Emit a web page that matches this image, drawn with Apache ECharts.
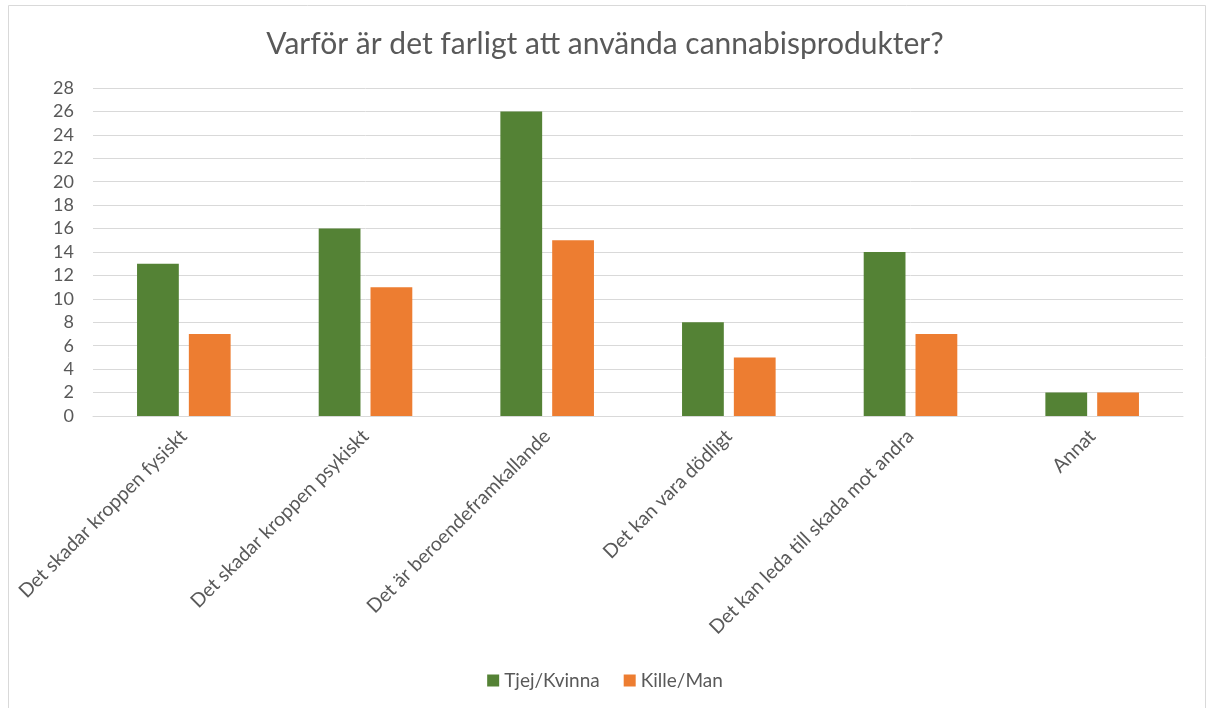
<!DOCTYPE html>
<html>
<head>
<meta charset="utf-8">
<script src="https://cdn.jsdelivr.net/npm/echarts@6/dist/echarts.min.js"></script>
<style>
  html, body { margin: 0; padding: 0; background: #fff; }
  #graph { width: 1210px; height: 708px; }
</style>
</head>
<body>
<div id="graph"></div>
<script>
const categories = [
  "Det skadar kroppen fysiskt",
  "Det skadar kroppen psykiskt",
  "Det är beroendeframkallande",
  "Det kan vara dödligt",
  "Det kan leda till skada mot andra",
  "Annat"
];
const tjejValues = [13, 16, 26, 8, 14, 2];
const killeValues = [7, 11, 15, 5, 7, 2];
const yTicks = { min: 0, max: 28, interval: 2 };

const textColor = "#595959";
const fontName = "Lato, 'Open Sans', sans-serif";

function createOptions() {
  return {
    animation: false,
    graphic: [{
      type: "rect",
      shape: { x: 8.5, y: 5.5, width: 1197, height: 710 },
      style: { fill: "none", stroke: "#d9d9d9", lineWidth: 1 }
    }],
    title: {
      left: "center",
      top: 24,
      text: "Varför är det farligt att använda cannabisprodukter?",
      textStyle: { color: textColor, fontSize: 30, fontWeight: "normal", fontFamily: fontName }
    },
    legend: {
      top: 666,
      left: "center",
      itemWidth: 12,
      itemHeight: 12,
      itemGap: 24,
      icon: "rect",
      textStyle: { color: textColor, fontSize: 19, fontFamily: fontName },
      data: ["Tjej/Kvinna", "Kille/Man"]
    },
    grid: { left: 93, right: 27, top: 88, bottom: 292 },
    xAxis: {
      type: "category",
      data: categories,
      axisLine: { lineStyle: { color: "#d9d9d9" } },
      axisTick: { show: false },
      axisLabel: {
        rotate: 45,
        interval: 0,
        margin: 17,
        color: textColor,
        fontSize: 19.5,
        fontFamily: fontName
      }
    },
    yAxis: {
      type: "value",
      min: yTicks.min,
      max: yTicks.max,
      interval: yTicks.interval,
      axisLine: { show: false },
      axisTick: { show: false },
      splitLine: { lineStyle: { color: "#d9d9d9" } },
      axisLabel: { color: textColor, fontSize: 18, fontFamily: fontName, margin: 19 }
    },
    series: [
      {
        name: "Tjej/Kvinna",
        type: "bar",
        data: tjejValues,
        barWidth: "23%",
        barGap: "24%",
        itemStyle: { color: "#548235" }
      },
      {
        name: "Kille/Man",
        type: "bar",
        data: killeValues,
        barWidth: "23%",
        itemStyle: { color: "#ed7d31" }
      }
    ]
  };
}

const myChart = echarts.init(document.getElementById("graph"));
myChart.setOption(createOptions());
</script>
</body>
</html>
